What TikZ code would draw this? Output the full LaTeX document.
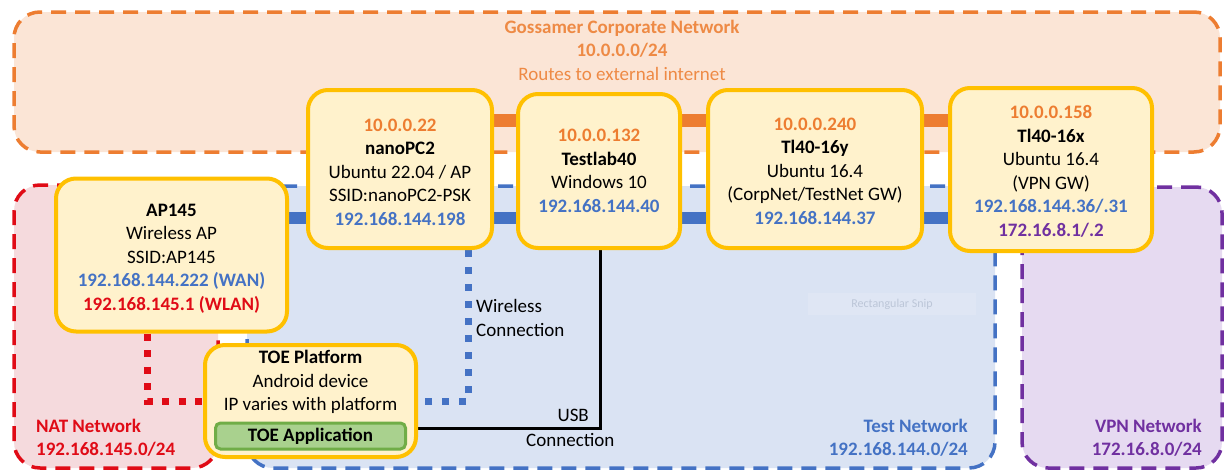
\documentclass[tikz,border=0pt]{standalone}
\usepackage{fontspec}
\setmainfont{Carlito}

\definecolor{corpedge}{HTML}{ED7D31}
\definecolor{corpfill}{HTML}{FBE5D6}
\definecolor{corptext}{HTML}{EE8A45}
\definecolor{testedge}{HTML}{4472C4}
\definecolor{testfill}{HTML}{DAE3F3}
\definecolor{natedge}{HTML}{E00B16}
\definecolor{natfill}{HTML}{F5DADD}
\definecolor{vpnedge}{HTML}{7030A0}
\definecolor{vpnfill}{HTML}{E6DAF1}
\definecolor{devedge}{HTML}{FFC000}
\definecolor{devfill}{HTML}{FFF2CC}
\definecolor{appedge}{HTML}{70AD47}
\definecolor{appfill}{HTML}{A9D18E}
\definecolor{sniptext}{HTML}{BCC6D8}
\definecolor{snipfill}{HTML}{DFE6F4}

\newcommand\corpip[1]{\textcolor{corpedge}{\textbf{#1}}}
\newcommand\testip[1]{\textcolor{testedge}{\textbf{#1}}}
\newcommand\natip[1]{\textcolor{natedge}{\textbf{#1}}}
\newcommand\vpnip[1]{\textcolor{vpnedge}{\textbf{#1}}}
% taller first line, to push a text block a little lower in its box
\newcommand\topstrut[1]{\rule{0pt}{#1}}

\pgfdeclarelayer{zones}
\pgfdeclarelayer{links}
\pgfsetlayers{zones,links,main}

\tikzset{
  zone/.style={line width=3.5pt, dash pattern=on 15pt off 9pt, rounded corners=26pt,
    inner sep=0pt},
  corpzone/.style={zone, draw=corpedge, fill=corpfill},
  testzone/.style={zone, draw=testedge, fill=testfill},
  natzone/.style={zone, draw=natedge, fill=natfill},
  vpnzone/.style={zone, draw=vpnedge, fill=vpnfill},
  device/.style={draw=devedge, fill=devfill, line width=4pt, rounded corners=20pt,
    align=center, inner sep=0pt, font=\fontsize{19}{23.5}\selectfont},
  lbl/.style={inner sep=0pt, font=\fontsize{19}{23.5}\selectfont},
  zonelbl/.style={lbl, font=\fontsize{19}{22.5}\selectfont\bfseries},
  corpbus/.style={draw=corpedge, line width=13pt},
  testbus/.style={draw=testedge, line width=12pt},
  wifilink/.style={draw=testedge, line width=7pt, dash pattern=on 7pt off 10pt},
  natlink/.style={draw=natedge, line width=7pt, dash pattern=on 7pt off 9.5pt},
  usblink/.style={draw=black, line width=3pt},
}

\begin{document}
\begin{tikzpicture}[x=1pt, y=-1pt]
\useasboundingbox (0,0) rectangle (1225,471);

% network zones
\begin{pgfonlayer}{zones}
\node[corpzone, minimum width=1206pt, minimum height=140pt] (corp) at (617,82) {};
\node[natzone,  minimum width=204pt,  minimum height=283pt] (natz) at (116,326.5) {};
\node[testzone, minimum width=748pt,  minimum height=282pt] (testz) at (621,327) {};
\node[vpnzone,  minimum width=200pt,  minimum height=281pt] (vpnz) at (1122,327.5) {};
\end{pgfonlayer}

% zone captions
\node[zonelbl, text=corptext, align=center] (corptitle) at (622,39)
  {Gossamer Corporate Network\\10.0.0.0/24};
\node[lbl, text=corptext] (corpnote) at (622,74) {Routes to external internet};
\node[zonelbl, text=natedge, anchor=west, align=left] (natlbl) at (36,438)
  {NAT Network\\192.168.145.0/24};
\node[zonelbl, text=testedge, anchor=east, align=right] (testlbl) at (968,438)
  {Test Network\\192.168.144.0/24};
\node[zonelbl, text=vpnedge, anchor=east, align=right] (vpnlbl) at (1202,438)
  {VPN Network\\172.16.8.0/24};

% stray snip caption
\node[fill=snipfill, minimum width=168pt, minimum height=22pt, inner sep=0pt,
  text=sniptext, font=\fontsize{12}{14}\selectfont] (snip) at (892,304) {Rectangular Snip};

% reference points for the links
\coordinate (corplevel) at (0,120.5);
\coordinate (testlevel) at (0,218);
\coordinate (wifibend) at (468,401);
\coordinate (natbend) at (147,401);
\coordinate (usbbend) at (600,428);

% devices
\node[device, minimum width=184pt, minimum height=158pt] (nano) at (400,169)
  {\topstrut{19pt}\corpip{10.0.0.22}\\\textbf{nanoPC2}\\Ubuntu 22.04 / AP\\SSID:nanoPC2-PSK\\\testip{192.168.144.198}};
\node[device, minimum width=162pt, minimum height=154pt] (lab) at (599,171)
  {\corpip{10.0.0.132}\\\textbf{Testlab40}\\Windows 10\\\testip{192.168.144.40}};
\node[device, minimum width=214pt, minimum height=158pt] (tly) at (815,169)
  {\topstrut{17pt}\corpip{10.0.0.240}\\\textbf{Tl40-16y}\\Ubuntu 16.4\\(CorpNet/TestNet GW)\\\testip{192.168.144.37}};
\node[device, minimum width=202pt, minimum height=163pt] (tlx) at (1051,169.5)
  {\topstrut{17pt}\corpip{10.0.0.158}\\\textbf{Tl40-16x}\\Ubuntu 16.4\\(VPN GW)\\\testip{192.168.144.36/.31}\\\vpnip{172.16.8.1/.2}};
\node[device, minimum width=231pt, minimum height=153pt] (ap) at (171.5,255)
  {\topstrut{19pt}\textbf{AP145}\\Wireless AP\\SSID:AP145\\\testip{192.168.144.222 (WAN)}\\\natip{192.168.145.1 (WLAN)}};
\node[device, minimum width=211pt, minimum height=112pt] (toe) at (310.5,401) {};

% links, kept behind the devices
\begin{pgfonlayer}{links}
\path[corpbus] (nano.east |- corplevel) -- (tlx.west |- corplevel);
\path[testbus] (ap.east |- testlevel) -- (tlx.west |- testlevel);
\path[wifilink] (nano.south -| wifibend) |- (toe.east |- wifibend);
\path[natlink] (ap.south -| natbend) |- (toe.west |- natbend);
\path[usblink] (lab.south -| usbbend) |- (toe.east |- usbbend);
\end{pgfonlayer}

% TOE platform content
\node[lbl, align=center] (toetext) at (310.5,382)
  {\textbf{TOE Platform}\\Android device\\IP varies with platform};
\node[draw=appedge, fill=appfill, line width=3pt, rounded corners=5pt,
  minimum width=190pt, minimum height=26pt, inner sep=0pt,
  font=\fontsize{19}{23.5}\selectfont\bfseries] (app) at (310.5,436) {TOE Application};

% link captions
\node[lbl, anchor=west, align=left] (wifilbl) at (476,318) {Wireless\\Connection};
\node[lbl, anchor=east] (usblbl) at (589,415) {USB};
\node[lbl, anchor=west] (usblbl2) at (526,440) {Connection};
\end{tikzpicture}
\end{document}
